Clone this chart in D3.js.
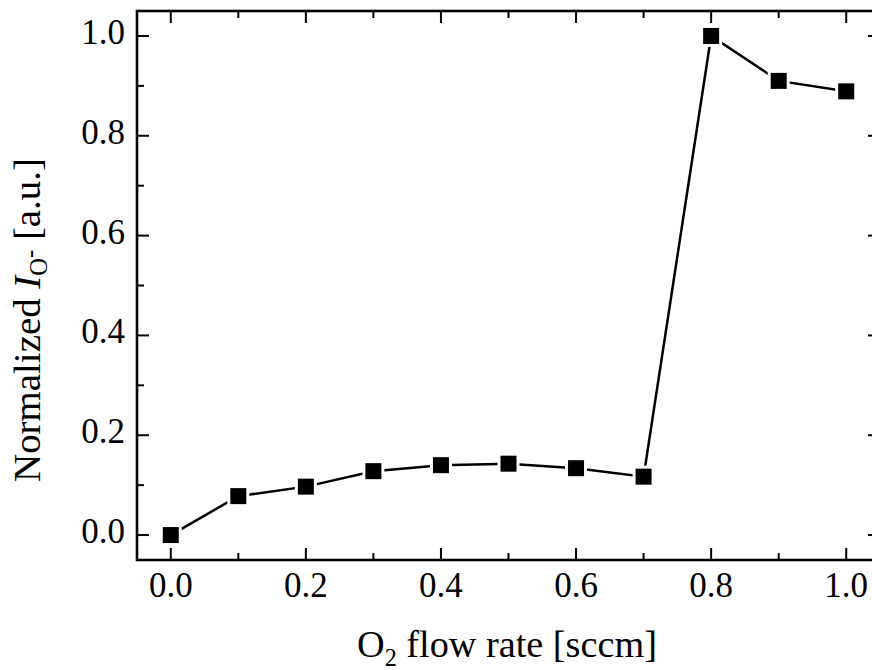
<!DOCTYPE html>
<html><head><meta charset="utf-8">
<script src="https://cdn.jsdelivr.net/npm/d3@7"></script>
</head><body style="margin:0;background:#fff">
<script>
const flowRates = [0.0,0.1,0.2,0.3,0.4,0.5,0.6,0.7,0.8,0.9,1.0];
const intensity = [0.0,0.078,0.097,0.128,0.140,0.143,0.134,0.117,1.0,0.910,0.889];
const xTicks = [0.0,0.2,0.4,0.6,0.8,1.0];
const yTicks = [0.0,0.2,0.4,0.6,0.8,1.0];
const xMinor = [0.1,0.3,0.5,0.7,0.9];
const yMinor = [0.1,0.3,0.5,0.7,0.9];

const FONT="Liberation Serif";
const W=872,H=670;
const L=137,R=880,T=11,B=560;
const svg=d3.select("body").append("svg").attr("width",W).attr("height",H).style("display","block");
const x=d3.scaleLinear().domain([-0.05,1.05]).range([L,R]);
const y=d3.scaleLinear().domain([-0.05,1.05]).range([B,T]);

const g=svg.append("g");
g.append("rect").attr("x",L).attr("y",T).attr("width",R-L).attr("height",B-T)
 .attr("fill","none").attr("stroke","#000").attr("stroke-width",2.6);

const maj=12, mnr=7;
function xt(vals,len){
  vals.forEach(v=>{
    g.append("line").attr("x1",x(v)).attr("x2",x(v)).attr("y1",B).attr("y2",B-len).attr("stroke","#000").attr("stroke-width",2);
    g.append("line").attr("x1",x(v)).attr("x2",x(v)).attr("y1",T).attr("y2",T+len).attr("stroke","#000").attr("stroke-width",2);
  });
}
function yt(vals,len){
  vals.forEach(v=>{
    g.append("line").attr("y1",y(v)).attr("y2",y(v)).attr("x1",L).attr("x2",L+len).attr("stroke","#000").attr("stroke-width",2);
    g.append("line").attr("y1",y(v)).attr("y2",y(v)).attr("x1",R).attr("x2",R-len).attr("stroke","#000").attr("stroke-width",2);
  });
}
xt(xTicks,maj); xt(xMinor,mnr); yt(yTicks,maj); yt(yMinor,mnr);

const fmt=d3.format(".1f");
g.selectAll(".xl").data(xTicks).enter().append("text")
 .attr("font-family",FONT).attr("x",d=>x(d)).attr("y",597).attr("text-anchor","middle").attr("font-size",35).text(fmt);
g.selectAll(".yl").data(yTicks).enter().append("text")
 .attr("font-family",FONT).attr("x",125).attr("y",d=>y(d)+8).attr("text-anchor","end").attr("font-size",35).text(fmt);

const pts=flowRates.map((f,i)=>[f,intensity[i]]);
g.append("path").datum(pts).attr("fill","none").attr("stroke","#000").attr("stroke-width",2.5)
 .attr("d",d3.line().x(d=>x(d[0])).y(d=>y(d[1])));
const s=16;
g.selectAll(".halo").data(pts).enter().append("rect")
 .attr("x",d=>x(d[0])-s/2-3).attr("y",d=>y(d[1])-s/2-3).attr("width",s+6).attr("height",s+6).attr("fill","#fff");
g.selectAll(".mk").data(pts).enter().append("rect")
 .attr("x",d=>x(d[0])-s/2).attr("y",d=>y(d[1])-s/2).attr("width",s).attr("height",s).attr("fill","#000");

// x label
const xl=svg.append("text").attr("font-family",FONT).attr("x",507).attr("y",657).attr("text-anchor","middle").attr("font-size",38);
xl.append("tspan").text("O");
xl.append("tspan").attr("font-size",24).attr("dy",9).text("2");
xl.append("tspan").attr("dy",-9).text(" flow rate [sccm]");
// fit width to 300
(function(){const w=xl.node().getComputedTextLength(); const k=300/w;
  xl.attr("font-size",38*k); xl.selectAll("tspan").each(function(){const fs=d3.select(this).attr("font-size"); if(fs) d3.select(this).attr("font-size",fs*k);});})();

// y label
const yl=svg.append("text").attr("font-family",FONT).attr("transform","translate(40,320) rotate(-90)").attr("text-anchor","middle").attr("font-size",38);
yl.append("tspan").text("Normalized ");
yl.append("tspan").attr("font-style","italic").text("I");
yl.append("tspan").attr("font-size",24).attr("dy",7).text("O");
yl.append("tspan").attr("font-size",24).attr("dy",-9).text("-");
yl.append("tspan").attr("dy",2).text(" [a.u.]");
(function(){const w=yl.node().getComputedTextLength(); const k=324/w;
  yl.attr("font-size",38*k); yl.selectAll("tspan").each(function(){const fs=d3.select(this).attr("font-size"); if(fs) d3.select(this).attr("font-size",fs*k);});})();
</script>
</body></html>
